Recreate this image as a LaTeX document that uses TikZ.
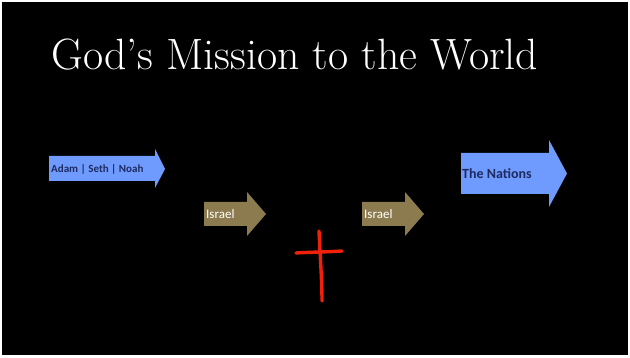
\documentclass[tikz,border=0pt]{standalone}
\usepackage{fontspec}
\newfontfamily\calib{Carlito}
\definecolor{bgblack}{HTML}{000000}
\definecolor{skyblue}{HTML}{6F9BFF}
\definecolor{navytext}{HTML}{1E2A60}
\definecolor{tan}{HTML}{8C7B4E}
\definecolor{crossred}{HTML}{F0200A}
\tikzset{
  x=1pt, y=-1pt,
  bluearrow/.style={fill=skyblue, draw=none},
  tanarrow/.style={fill=tan, draw=none},
  bluelabel/.style={anchor=west, inner sep=0pt, text=navytext, font=\calib\bfseries},
  tanlabel/.style={anchor=west, inner sep=0pt, text=white, font=\calib\fontsize{13}{15}\selectfont},
  crossstroke/.style={draw=crossred, line width=3.4pt, line cap=round}
}
\begin{document}
\begin{tikzpicture}
\useasboundingbox (0,0) rectangle (630,358);
\fill[white] (0,0) rectangle (630,358);
\fill[bgblack] (2,2) rectangle (628,355);
% title
\node[anchor=base west, inner sep=0pt, text=white] (title) at (51,70)
  {\resizebox{487pt}{!}{\fontsize{40}{48}\selectfont God’s Mission to the World}};
% Adam | Seth | Noah arrow
\fill[bluearrow] (49,156) -- (155,156) -- (155,149) -- (165,169) -- (155,188) -- (155,181) -- (49,181) -- cycle;
\node[bluelabel, font=\calib\bfseries\fontsize{11}{13}\selectfont] (adam) at (51,169) {Adam | Seth | Noah};
% Israel arrow 1
\fill[tanarrow] (204,202) -- (247,202) -- (247,192) -- (266,214) -- (247,236) -- (247,226) -- (204,226) -- cycle;
\node[tanlabel] (israelA) at (206,214) {Israel};
% Israel arrow 2
\fill[tanarrow] (362,202) -- (405,202) -- (405,192) -- (424,214) -- (405,236) -- (405,226) -- (362,226) -- cycle;
\node[tanlabel] (israelB) at (364,214) {Israel};
% The Nations arrow
\fill[bluearrow] (461,153) -- (549,153) -- (549,140) -- (567,173.5) -- (549,207) -- (549,194) -- (461,194) -- cycle;
\node[bluelabel, font=\calib\bfseries\fontsize{14}{16}\selectfont] (nations) at (462,174) {The Nations};
% cross
\draw[crossstroke] (319,231) .. controls (320,255) and (322,280) .. (322,301);
\draw[crossstroke] (296,253) .. controls (312,252) and (328,252) .. (342,251);
\end{tikzpicture}
\end{document}
